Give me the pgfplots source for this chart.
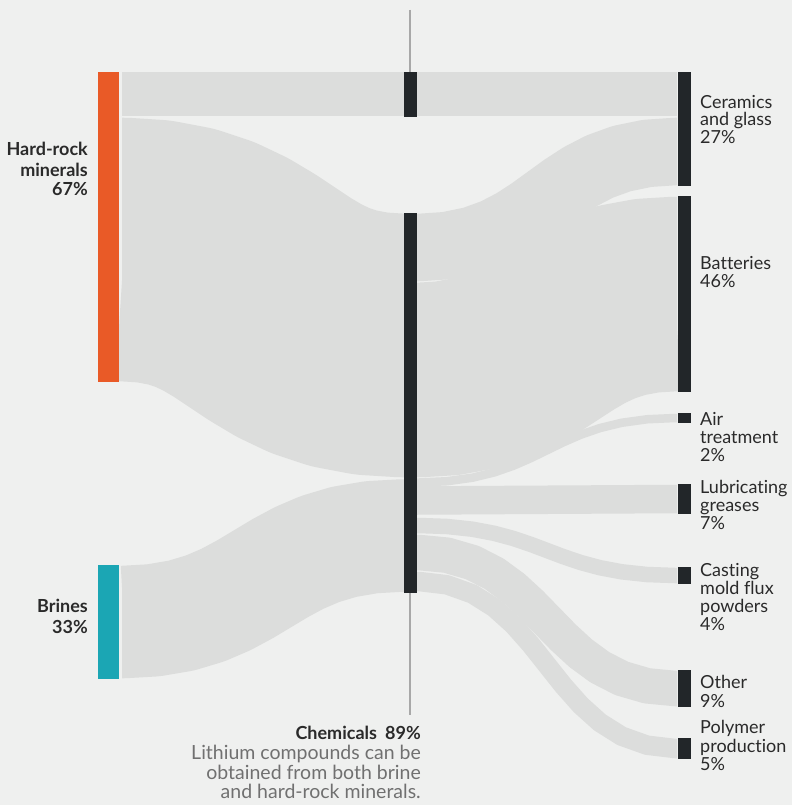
\documentclass[border=0pt]{standalone}
\usepackage{pgfplots}
\pgfplotsset{compat=1.18}
\usepackage{fontspec}
\setmainfont{Lato}[Ligatures=NoCommon]
\definecolor{bg}{HTML}{EFF0EF}
\definecolor{rib}{HTML}{DCDDDC}
\definecolor{hard}{HTML}{E95A27}
\definecolor{brine}{HTML}{1BA6B4}
\definecolor{barc}{HTML}{222629}
\definecolor{vline}{HTML}{A8A8A8}
\definecolor{lbl}{HTML}{2A2A2A}
\definecolor{subc}{HTML}{707070}
\newcommand{\R}[3]{\node[anchor=base west,text=lbl,font=\fontsize{18}{20}\selectfont,inner sep=0pt] at (axis cs:#1,#2) {#3};}
\newcommand{\Lb}[3]{\node[anchor=base east,text=lbl,font=\fontsize{18}{20}\selectfont\bfseries,inner sep=0pt] at (axis cs:#1,#2) {#3};}
\newcommand{\Sb}[3]{\node[anchor=base east,text=subc,font=\fontsize{19.5}{20}\selectfont,inner sep=0pt] at (axis cs:#1,#2) {#3};}
\begin{document}
\begin{tikzpicture}
\begin{axis}[name=ax,width=792pt,height=805pt,scale only axis,
  xmin=0,xmax=792,ymin=0,ymax=805,y dir=reverse,
  axis lines=none,ticks=none,clip=false,no markers,
  every axis plot/.append style={line cap=butt,line join=round}]
% background
\addplot[fill=bg,draw=none] coordinates {(0,0)(792,0)(792,805)(0,805)};
% --- ribbons: sources -> middle column
\addplot[rib,line width=44pt] coordinates {(122,94.5)(404,94.5)};
\addplot[rib,line width=263.5pt] coordinates {(122,249.5)(124,249.5)(153.59,251.39)(181.27,256.61)(205.02,264.5)(225.81,274.39)(244.65,285.61)(262.5,297.5)(280.35,309.39)(299.19,320.61)(319.98,330.5)(343.73,338.39)(371.41,343.61)(402,345.5)(404,345.5)};
\addplot[rib,line width=112.5pt] coordinates {(122,622)(124,622)(153.59,620.30)(181.27,615.59)(205.02,608.48)(225.81,599.57)(244.65,589.46)(262.5,578.75)(280.35,568.04)(299.19,557.93)(319.98,549.02)(343.73,541.91)(371.41,537.20)(402,535.5)(404,535.5)};
% --- ribbons: middle column -> uses
\addplot[rib,line width=44pt] coordinates {(417,94.5)(677,94.5)};
\addplot[rib,line width=67.5pt] coordinates {(417,247.5)(419,247.5)(446.94,245.61)(472.37,240.39)(494.19,232.5)(513.30,222.61)(530.60,211.39)(547,199.5)(563.40,187.61)(580.70,176.39)(599.81,166.5)(621.63,158.61)(647.06,153.39)(675,151.5)(677,151.5)};
\addplot[rib,line width=194.5pt] coordinates {(417,380)(419,380)(446.94,378.31)(472.37,373.63)(494.19,366.56)(513.30,357.70)(530.60,347.65)(547,337)(563.40,326.35)(580.70,316.30)(599.81,307.44)(621.63,300.37)(647.06,295.69)(675,294)(677,294)};
\addplot[rib,line width=8.5pt] coordinates {(417,482.5)(419,482.5)(446.94,481.23)(472.37,477.72)(494.19,472.42)(513.30,465.78)(530.60,458.24)(547,450.25)(563.40,442.26)(580.70,434.72)(599.81,428.08)(621.63,422.78)(647.06,419.27)(675,418)(677,418)};
\addplot[rib,line width=28.5pt] coordinates {(417,500.5)(677,499)};
\addplot[rib,line width=15.5pt] coordinates {(417,525.5)(419,525.5)(446.94,526.48)(472.37,529.20)(494.19,533.31)(513.30,538.46)(530.60,544.31)(547,550.5)(563.40,556.69)(580.70,562.54)(599.81,567.69)(621.63,571.80)(647.06,574.52)(675,575.5)(677,575.5)};
\addplot[rib,line width=35.5pt] coordinates {(417,552.5)(419,552.5)(446.94,555.18)(472.37,562.57)(494.19,573.75)(513.30,587.76)(530.60,603.66)(547,620.5)(563.40,637.34)(580.70,653.24)(599.81,667.25)(621.63,678.43)(647.06,685.82)(675,688.5)(677,688.5)};
\addplot[rib,line width=19.5pt] coordinates {(417,581.5)(419,581.5)(446.94,584.79)(472.37,593.87)(494.19,607.59)(513.30,624.80)(530.60,644.32)(547,665)(563.40,685.68)(580.70,705.20)(599.81,722.41)(621.63,736.13)(647.06,745.21)(675,748.5)(677,748.5)};
% --- guide lines
\addplot[vline,line width=1.5pt] coordinates {(410,10)(410,72)};
\addplot[vline,line width=1.5pt] coordinates {(410,593)(410,715)};
% --- nodes (bars)
\addplot[fill=hard,draw=none] coordinates {(98,72)(119,72)(119,382)(98,382)};
\addplot[fill=brine,draw=none] coordinates {(98,565)(119,565)(119,679)(98,679)};
\addplot[fill=barc,draw=none] coordinates {(404,72)(417,72)(417,117)(404,117)};
\addplot[fill=barc,draw=none] coordinates {(404,213)(417,213)(417,593)(404,593)};
\addplot[fill=barc,draw=none] coordinates {(678,72)(691,72)(691,186)(678,186)};
\addplot[fill=barc,draw=none] coordinates {(678,196)(691,196)(691,392)(678,392)};
\addplot[fill=barc,draw=none] coordinates {(678,413)(691,413)(691,423)(678,423)};
\addplot[fill=barc,draw=none] coordinates {(678,484)(691,484)(691,514)(678,514)};
\addplot[fill=barc,draw=none] coordinates {(678,567)(691,567)(691,584)(678,584)};
\addplot[fill=barc,draw=none] coordinates {(678,670)(691,670)(691,707)(678,707)};
\addplot[fill=barc,draw=none] coordinates {(678,738)(691,738)(691,759)(678,759)};
% --- labels
\Lb{88}{156}{Hard-rock}
\Lb{88}{176}{minerals}
\Lb{88}{196}{67\%}
\Lb{88}{612}{Brines}
\Lb{88}{633}{33\%}
\R{700}{109}{Ceramics}
\R{700}{126}{and glass}
\R{700}{144}{27\%}
\R{700}{269}{Batteries}
\R{700}{287}{46\%}
\R{700}{425}{Air}
\R{700}{443}{treatment}
\R{700}{461}{2\%}
\R{700}{493}{Lubricating}
\R{700}{511}{greases}
\R{700}{529}{7\%}
\R{700}{576}{Casting}
\R{700}{594}{mold flux}
\R{700}{612}{powders}
\R{700}{630}{4\%}
\R{700}{688}{Other}
\R{700}{707}{9\%}
\R{700}{733}{Polymer}
\R{700}{752}{production}
\R{700}{770}{5\%}
\node[anchor=base east,text=lbl,font=\fontsize{18}{20}\selectfont\bfseries,inner sep=0pt] at (axis cs:421,739) {Chemicals\hspace{0.45em}89\%};
\Sb{421}{759}{Lithium compounds can be}
\Sb{421}{779}{obtained from both brine}
\Sb{421}{798}{and hard-rock minerals.}
\end{axis}
\pgfresetboundingbox
\path[use as bounding box] (ax.south west) rectangle (ax.north east);
\end{tikzpicture}
\end{document}
